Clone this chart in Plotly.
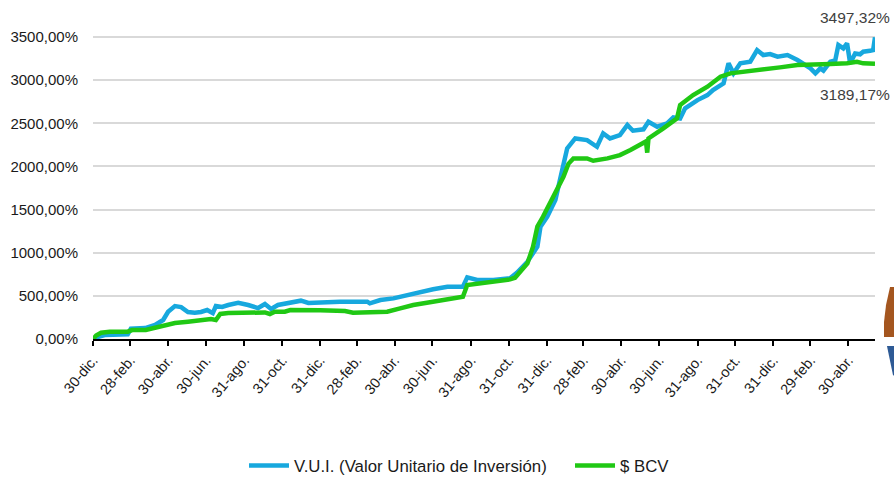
import plotly.graph_objects as go

# ---------------- data ----------------
vui_dates = [
    "2020-12-30", "2021-01-05", "2021-01-18", "2021-02-12", "2021-02-24", "2021-03-01", "2021-03-24",
    "2021-04-09", "2021-04-22", "2021-04-30", "2021-05-11", "2021-05-21", "2021-06-01", "2021-06-12",
    "2021-06-22", "2021-07-02", "2021-07-11", "2021-07-16", "2021-07-26", "2021-08-05", "2021-08-21",
    "2021-09-06", "2021-09-22", "2021-10-03", "2021-10-13", "2021-10-24", "2021-11-09", "2021-11-30",
    "2021-12-12", "2021-12-28", "2022-01-13", "2022-02-01", "2022-02-22", "2022-03-17", "2022-03-21",
    "2022-04-07", "2022-04-28", "2022-05-20", "2022-06-10", "2022-07-01", "2022-07-24", "2022-08-18",
    "2022-08-25", "2022-09-10", "2022-10-06", "2022-11-02", "2022-11-13", "2022-11-30", "2022-12-16",
    "2022-12-21", "2023-01-01", "2023-01-14", "2023-01-25", "2023-02-02", "2023-02-15", "2023-03-06",
    "2023-03-22", "2023-04-01", "2023-04-12", "2023-04-28", "2023-05-10", "2023-05-19", "2023-06-05",
    "2023-06-13", "2023-06-27", "2023-07-13", "2023-07-23", "2023-08-03", "2023-08-11", "2023-08-31",
    "2023-09-16", "2023-09-25", "2023-10-12", "2023-10-20", "2023-10-28", "2023-11-08", "2023-11-24",
    "2023-12-05", "2023-12-15", "2023-12-26", "2024-01-07", "2024-01-23", "2024-02-08", "2024-02-17",
    "2024-02-29", "2024-03-08", "2024-03-16", "2024-03-21", "2024-04-01", "2024-04-09", "2024-04-14",
    "2024-04-22", "2024-04-28", "2024-05-03", "2024-05-11", "2024-05-19", "2024-05-24", "2024-06-04",
    "2024-06-09", "2024-06-12",
]
vui_values = [
    0, 20, 45, 45, 55, 120, 127,
    162, 220, 316, 382, 370, 313, 305,
    313, 336, 300, 382, 372, 394, 420,
    394, 359, 405, 348, 394, 417, 444,
    417, 425, 420, 432, 432, 432, 413,
    452, 471, 510, 548, 576, 606, 606,
    715, 684, 684, 703, 768, 896, 1070,
    1302, 1417, 1610, 1958, 2209, 2325, 2306,
    2228, 2383, 2325, 2364, 2480, 2414, 2430,
    2518, 2460, 2500, 2569, 2555, 2673, 2769,
    2827, 2885, 2963, 3195, 3079, 3195, 3214,
    3349, 3291, 3302, 3272, 3291, 3233, 3195,
    3137, 3079, 3137, 3110, 3214, 3230, 3407,
    3368, 3426, 3195, 3310, 3300, 3330, 3340,
    3349, 3497.32,
]

bcv_dates = [
    "2020-12-30", "2021-01-04", "2021-01-12", "2021-01-26", "2021-02-24", "2021-03-03", "2021-03-25",
    "2021-04-09", "2021-04-25", "2021-05-11", "2021-06-01", "2021-06-22", "2021-07-08", "2021-07-16",
    "2021-07-23", "2021-08-05", "2021-09-27", "2021-10-03", "2021-10-11", "2021-10-19", "2021-11-04",
    "2021-11-13", "2021-12-31", "2022-02-09", "2022-02-22", "2022-04-02", "2022-04-18", "2022-05-09",
    "2022-05-30", "2022-06-21", "2022-07-12", "2022-08-02", "2022-08-18", "2022-08-25", "2022-09-15",
    "2022-10-06", "2022-11-02", "2022-11-10", "2022-11-18", "2022-11-30", "2022-12-09", "2022-12-16",
    "2022-12-25", "2023-01-10", "2023-01-27", "2023-02-04", "2023-02-12", "2023-03-06", "2023-03-16",
    "2023-04-08", "2023-04-28", "2023-05-15", "2023-05-31", "2023-06-09", "2023-06-11", "2023-06-13",
    "2023-07-07", "2023-07-29", "2023-08-03", "2023-08-24", "2023-09-16", "2023-10-07", "2023-10-23",
    "2023-11-19", "2023-12-15", "2024-01-11", "2024-02-08", "2024-03-05", "2024-04-01", "2024-04-28",
    "2024-05-14", "2024-05-24", "2024-06-12",
]
bcv_values = [
    0, 40, 73, 85, 85, 104, 104,
    131, 162, 185, 200, 212, 231, 220,
    290, 300, 300, 308, 290, 316, 316,
    336, 332, 325, 305, 305, 316, 355,
    394, 420, 444, 460, 490, 626, 645,
    664, 691, 710, 780, 877, 1070, 1302,
    1417, 1649, 1881, 2030, 2093, 2093, 2066,
    2093, 2132, 2190, 2248, 2290, 2160, 2325,
    2441, 2557, 2711, 2827, 2924, 3040, 3079,
    3098, 3125, 3148, 3175, 3175, 3186, 3195,
    3214, 3195, 3189.17,
]

tick_dates = [
    "2020-12-30", "2021-02-28", "2021-04-30", "2021-06-30", "2021-08-31", "2021-10-31", "2021-12-31",
    "2022-02-28", "2022-04-30", "2022-06-30", "2022-08-31", "2022-10-31", "2022-12-31",
    "2023-02-28", "2023-04-30", "2023-06-30", "2023-08-31", "2023-10-31", "2023-12-31",
    "2024-02-29", "2024-04-30",
]
tick_labels = [
    "30-dic.", "28-feb.", "30-abr.", "30-jun.", "31-ago.", "31-oct.", "31-dic.",
    "28-feb.", "30-abr.", "30-jun.", "31-ago.", "31-oct.", "31-dic.",
    "28-feb.", "30-abr.", "30-jun.", "31-ago.", "31-oct.", "31-dic.",
    "29-feb.", "30-abr.",
]
y_ticks = [0, 500, 1000, 1500, 2000, 2500, 3000, 3500]
y_tick_labels = ["0,00%", "500,00%", "1000,00%", "1500,00%", "2000,00%", "2500,00%", "3000,00%", "3500,00%"]

series_names = ["V.U.I. (Valor Unitario de Inversión)", "$ BCV"]
end_labels = ["3497,32%", "3189,17%"]

# ---------------- styles ----------------
BLUE = "#17A8DE"
GREEN = "#20C814"
FONT = "Liberation Sans, Arial, sans-serif"

fig = go.Figure()
fig.add_trace(go.Scatter(x=vui_dates, y=vui_values, mode="lines", name=series_names[0],
                         line=dict(color=BLUE, width=4.5)))
fig.add_trace(go.Scatter(x=bcv_dates, y=bcv_values, mode="lines", name=series_names[1],
                         line=dict(color=GREEN, width=4.5)))

fig.add_annotation(x=vui_dates[-1], y=vui_values[-1], text=end_labels[0], showarrow=False,
                   xanchor="right", yanchor="middle", xshift=17, yshift=20,
                   font=dict(family=FONT, size=15.5, color="#404040"))
fig.add_annotation(x=bcv_dates[-1], y=bcv_values[-1], text=end_labels[1], showarrow=False,
                   xanchor="right", yanchor="middle", xshift=17, yshift=-31,
                   font=dict(family=FONT, size=15.5, color="#404040"))

# partial logo at right edge (decoration)
def px2paper(px, py):
    return (px - 93) / 782.0, (339 - py) / 305.0

def path(points):
    pts = [px2paper(*p) for p in points]
    return "M " + " L ".join(f"{x:.4f},{y:.4f}" for x, y in pts) + " Z"

fig.add_shape(type="path", xref="paper", yref="paper",
              path=path([(890, 287), (886, 305), (884, 322), (884, 337), (900, 337), (900, 287)]),
              fillcolor="#A4561F", line=dict(width=0), layer="above")
fig.add_shape(type="path", xref="paper", yref="paper",
              path=path([(887, 346), (900, 346), (900, 380), (893, 375)]),
              fillcolor="#2E5A95", line=dict(width=0), layer="above")

fig.update_layout(
    width=894, height=477,
    margin=dict(l=93, r=19, t=34, b=138, autoexpand=False),
    paper_bgcolor="white", plot_bgcolor="white",
    font=dict(family=FONT, size=14, color="#1a1a1a"),
    showlegend=True,
    legend=dict(orientation="h", x=(244 - 93) / 782.0, xanchor="left", y=-0.415, yanchor="middle",
                font=dict(family=FONT, size=16.8, color="#1a1a1a"),
                itemwidth=40, tracegroupgap=0, entrywidth=271, entrywidthmode="pixels"),
    xaxis=dict(
        type="date",
        range=["2020-12-30", "2024-06-12"],
        tickmode="array", tickvals=tick_dates, ticktext=tick_labels,
        tickangle=-50,
        tickfont=dict(family=FONT, size=14.5, color="#1a1a1a"),
        showgrid=False, showline=True, linecolor="black", linewidth=2,
        ticks="outside", ticklen=5, tickcolor="black", tickwidth=1.5,
        zeroline=False,
    ),
    yaxis=dict(
        range=[0, 3535],
        tickmode="array", tickvals=y_ticks, ticktext=y_tick_labels,
        tickfont=dict(family=FONT, size=15, color="#1a1a1a"),
        showgrid=True, gridcolor="#D9D9D9", gridwidth=1.5,
        showline=False, zeroline=False, ticks="", ticklabelstandoff=14,
    ),
)

fig.write_html("out.html", config={"displayModeBar": False},
               post_script="document.body.style.margin='0';document.body.style.overflow='hidden';")
